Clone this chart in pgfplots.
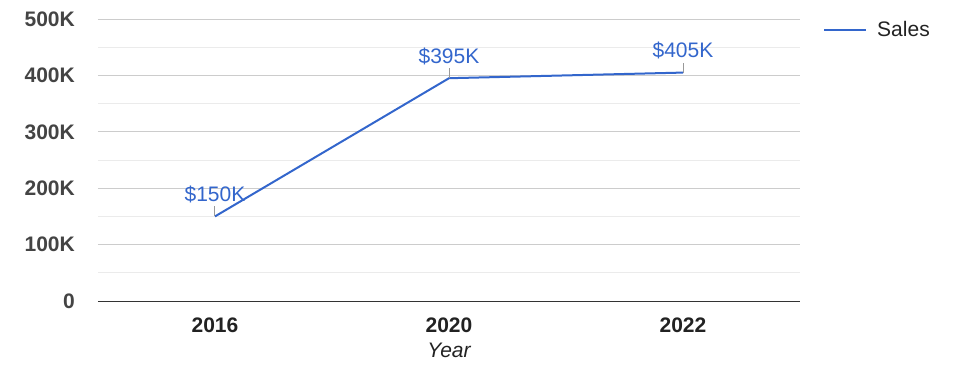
\documentclass[border=0pt]{standalone}
\usepackage{pgfplots}
\pgfplotsset{compat=1.18}
\usepackage{fontspec}
\setmainfont{Liberation Sans}
\definecolor{lineblue}{HTML}{3366CC}
\definecolor{gridmajor}{HTML}{CCCCCC}
\definecolor{gridminor}{HTML}{EBEBEB}
\definecolor{ylab}{HTML}{444444}
\definecolor{xlab}{HTML}{222222}
\definecolor{leadergray}{HTML}{999999}
\definecolor{baseline}{HTML}{333333}
\newcommand\ff{\fontsize{21}{25}\selectfont}
\pgfdeclareplotmark{leader}{\pgfpathmoveto{\pgfpointorigin}\pgfpathlineto{\pgfpoint{0pt}{10pt}}\pgfusepathqstroke}
\begin{document}
\begin{tikzpicture}
\path[use as bounding box] (-98pt,-77pt) rectangle (877pt,301pt);
\begin{axis}[
  at={(0pt,0pt)}, anchor=south west,
  scale only axis, width=702pt, height=282pt,
  /pgf/number format/assume math mode=true,
  xmin=-0.5, xmax=2.5, ymin=0, ymax=500,
  xtick={0,1,2}, xticklabels={2016,2020,2022},
  ytick={0,100,...,500}, yticklabels={0,100K,200K,300K,400K,500K},
  minor ytick={50,150,...,450},
  ymajorgrids, yminorgrids,
  major grid style={color=gridmajor, line width=1pt},
  minor grid style={color=gridminor, line width=1pt},
  major tick length=0pt, minor tick length=0pt,
  tick style={draw=none},
  separate axis lines,
  axis x line*=bottom, axis y line*=left,
  x axis line style={-, color=baseline, line width=1pt},
  y axis line style={draw=none},
  yticklabel style={anchor=east, inner sep=0pt, xshift=-23pt, font=\ff\bfseries, text=ylab},
  xticklabel style={anchor=north, inner sep=0pt, yshift=-17pt, font=\ff\bfseries, text=xlab},
  xlabel={Year},
  xlabel style={at={(axis description cs:0.5,0)}, anchor=north, inner sep=0pt, yshift=-42pt, font=\ff\itshape, text=xlab},
  legend style={at={(axis description cs:1.0328,0.961)}, anchor=west, draw=none, fill=none, inner sep=0pt,
    font=\ff, text=xlab, nodes={inner sep=0pt}, column sep=10pt},
  legend image code/.code={\draw[#1] (0pt,0pt) -- (42pt,0pt);},
  clip=false,
]
\addplot[forget plot, only marks, mark=leader, mark options={color=leadergray, line width=1pt}]
  coordinates {(0,150) (1,395) (2,405)};
\addplot[lineblue, line width=2pt,
  nodes near coords={\$\pgfmathprintnumber{\pgfplotspointmeta}K},
  every node near coord/.append style={anchor=base, yshift=15pt, inner sep=0pt, font=\ff, text=lineblue}]
  coordinates {(0,150) (1,395) (2,405)};
\addlegendentry{Sales}
\end{axis}
\end{tikzpicture}
\end{document}
